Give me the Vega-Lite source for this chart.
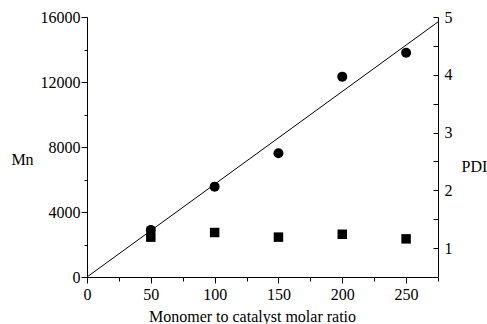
{
  "$schema": "https://vega.github.io/schema/vega-lite/v6.json",
  "width": 351,
  "height": 260,
  "autosize": {"type": "none"},
  "padding": {"left": 87, "top": 17, "right": 49, "bottom": 47},
  "config": {
    "view": {"stroke": null},
    "font": "Times New Roman",
    "axis": {
      "domainColor": "black",
      "tickColor": "black",
      "labelColor": "black",
      "titleColor": "black",
      "labelFont": "Times New Roman",
      "titleFont": "Times New Roman",
      "labelFontSize": 16,
      "titleFontSize": 16,
      "titleFontWeight": "normal",
      "grid": false,
      "domainWidth": 1,
      "tickWidth": 1
    }
  },
  "datasets": {
    "fit": [
      {"ratio": 0, "Mn": 0},
      {"ratio": 275, "Mn": 15700}
    ],
    "samples": [
      {"ratio": 50, "Mn": 2900, "PDI": 1.19},
      {"ratio": 100, "Mn": 5560, "PDI": 1.27},
      {"ratio": 150, "Mn": 7610, "PDI": 1.19},
      {"ratio": 200, "Mn": 12330, "PDI": 1.24},
      {"ratio": 250, "Mn": 13800, "PDI": 1.16}
    ]
  },
  "encoding": {
    "x": {
      "field": "ratio",
      "type": "quantitative",
      "scale": {"domain": [0, 275], "nice": false, "zero": false},
      "axis": {
        "title": "Monomer to catalyst molar ratio",
        "values": [0, 25, 50, 75, 100, 125, 150, 175, 200, 225, 250, 275],
        "labelExpr": "datum.value % 50 == 0 ? datum.label : ''",
        "tickSize": {"condition": {"test": "datum.value % 50 == 0", "value": 6}, "value": 4},
        "labelPadding": 3,
        "labelFont": "Times New Roman",
        "titleFont": "Times New Roman",
        "titleX": 165,
        "titleY": 44,
        "titleAlign": "center",
        "titleBaseline": "alphabetic",
        "labelFlush": false
      }
    }
  },
  "layer": [
    {
      "encoding": {
        "y": {
          "field": "Mn",
          "type": "quantitative",
          "scale": {"domain": [0, 16000], "nice": false, "zero": false},
          "axis": {
            "title": "Mn",
            "titleAngle": 0,
            "titleX": -65,
            "titleY": 142,
            "titleAlign": "center",
            "titleBaseline": "middle",
            "labelFont": "Times New Roman",
            "titleFont": "Times New Roman",
            "values": [0, 2000, 4000, 6000, 8000, 10000, 12000, 14000, 16000],
            "labelExpr": "datum.value % 4000 == 0 ? datum.value : ''",
            "tickSize": {"condition": {"test": "datum.value % 4000 == 0", "value": 6}, "value": 3},
            "labelPadding": 1,
            "labelFlush": false
          }
        }
      },
      "layer": [
        {
          "data": {"name": "fit"},
          "mark": {"type": "line", "color": "black", "strokeWidth": 1}
        },
        {
          "data": {"name": "samples"},
          "mark": {"type": "point", "shape": "circle", "filled": true, "color": "black", "opacity": 1, "size": 100}
        }
      ]
    },
    {
      "data": {"name": "samples"},
      "mark": {"type": "point", "shape": "square", "filled": true, "color": "black", "opacity": 1, "size": 90},
      "encoding": {
        "y": {
          "field": "PDI",
          "type": "quantitative",
          "scale": {"domain": [0.5, 5], "nice": false, "zero": false},
          "axis": {
            "orient": "right",
            "title": "PDI",
            "titleAngle": 0,
            "titleX": 36,
            "titleY": 149,
            "titleAlign": "center",
            "titleBaseline": "middle",
            "labelFont": "Times New Roman",
            "titleFont": "Times New Roman",
            "values": [1, 1.5, 2, 2.5, 3, 3.5, 4, 4.5, 5],
            "labelExpr": "datum.value % 1 == 0 ? datum.value : ''",
            "tickSize": -5,
            "labelPadding": 11,
            "labelFlush": false
          }
        }
      }
    }
  ],
  "resolve": {"scale": {"y": "independent"}}
}
